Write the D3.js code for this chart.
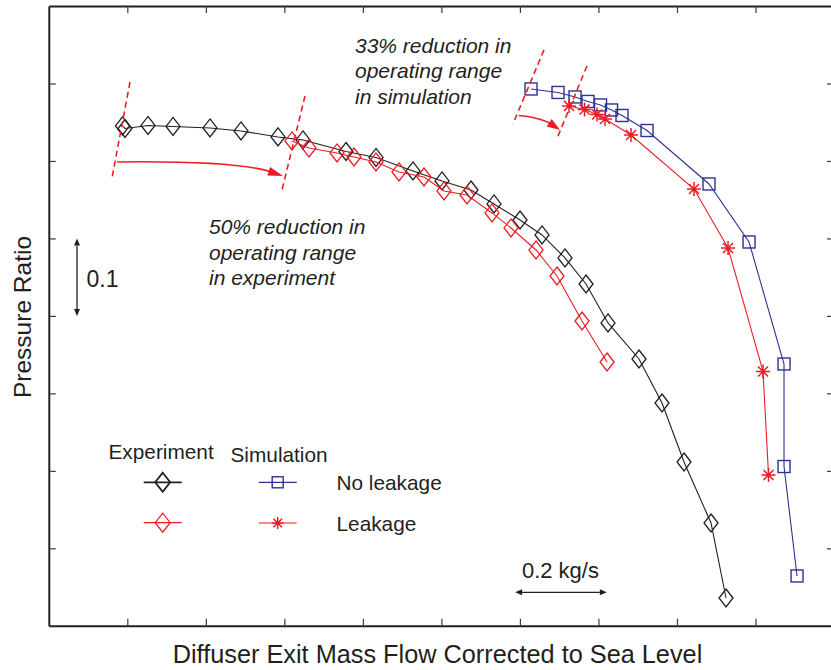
<!DOCTYPE html>
<html>
<head>
<meta charset="utf-8">
<script src="https://cdn.jsdelivr.net/npm/d3@7"></script>
<style>
  body { margin: 0; background: #fff; }
  svg { display: block; }
  text { font-family: "Liberation Sans", Arial, Helvetica, sans-serif; fill: #231f20; }
</style>
</head>
<body>
<svg id="chart" width="831" height="670"></svg>
<script>
// Corrected diffuser exit mass flow (kg/s, relative) and total pressure ratio per series
const expNoLeakFlow = [0.1607, 0.1662, 0.2164, 0.2709, 0.3516, 0.4192, 0.4999, 0.5544, 0.6482, 0.7136, 0.7943,
  0.8576, 0.9208, 0.9710, 1.0277, 1.0757, 1.1258, 1.1717, 1.2196, 1.2872, 1.3374, 1.3854, 1.4443, 1.4770];
const expNoLeakPR = [1.6452, 1.6419, 1.6458, 1.6445, 1.6426, 1.6387, 1.6310, 1.6271, 1.6122, 1.6045, 1.5871,
  1.5742, 1.5625, 1.5445, 1.5238, 1.5045, 1.4748, 1.4412, 1.3909, 1.3444, 1.2876, 1.2114, 1.1327, 1.0359];

const expLeakFlow = [0.5304, 0.5675, 0.6286, 0.6657, 0.7136, 0.7638, 0.8183, 0.8619, 0.9121, 0.9666, 1.0081,
  1.0626, 1.1084, 1.1629, 1.2175];
const expLeakPR = [1.6258, 1.6168, 1.6103, 1.6051, 1.5987, 1.5858, 1.5793, 1.5613, 1.5561, 1.5329, 1.5135,
  1.4851, 1.4515, 1.3934, 1.3405];

const simNoLeakFlow = [1.0517, 1.1106, 1.1477, 1.1760, 1.2033, 1.2273, 1.2502, 1.3047, 1.4399, 1.5272, 1.6035,
  1.6035, 1.6319];
const simNoLeakPR = [1.6929, 1.6884, 1.6826, 1.6768, 1.6723, 1.6658, 1.6587, 1.6393, 1.5703, 1.4954, 1.3379,
  1.2056, 1.0643];

const simLeakFlow = [1.1346, 1.1684, 1.1956, 1.2131, 1.2698, 1.4072, 1.4814, 1.5577, 1.5697];
const simLeakPR = [1.6710, 1.6665, 1.6600, 1.6542, 1.6335, 1.5638, 1.4877, 1.3283, 1.1947];

// Axis extents and (unlabelled) tick positions
const flowDomain = [0, 1.7125];
const prDomain = [1.0, 1.8];
const flowTicks = [0.17125, 0.3425, 0.51375, 0.685, 0.85625, 1.0275, 1.19875, 1.37, 1.54125];
const prTicks = [1.1, 1.2, 1.3, 1.4, 1.5, 1.6, 1.7];

// Stall-limit markers (dashed) bounding each operating range: [flow, PR] end points
const rangeLimits = [
  [[0.1771, 1.7019], [0.1378, 1.5780]],
  [[0.5588, 1.6839], [0.5086, 1.5625]],
  [[1.0800, 1.7433], [1.0124, 1.6477]],
  [[1.1738, 1.7226], [1.1084, 1.6290]]
];
// Curved arrows showing the range shift: start, two control points, tip
const shiftArrows = [
  [[0.1490, 1.5988], [0.3298, 1.6000], [0.4388, 1.5948], [0.5108, 1.5807]],
  [[1.0255, 1.6587], [1.0604, 1.6574], [1.0888, 1.6503], [1.1150, 1.6400]]
];
const scaleFlow = 0.2;   // kg/s reference bar
const scalePR = 0.1;     // pressure-ratio reference bar

const C = { black: "#231f20", red: "#ed1c24", blue: "#2e3192" };

const svg = d3.select("#chart");
const x = d3.scaleLinear().domain(flowDomain).range([48.8, 834]);
const y = d3.scaleLinear().domain(prDomain).range([625.8, 6]);

// ---- frame with inward ticks on all sides ----
function styleAxis(g) {
  g.select(".domain").attr("stroke", C.black).attr("stroke-width", 2);
  g.selectAll(".tick line").attr("stroke", "#3a3a3a").attr("stroke-width", 1.2);
}
svg.append("g").attr("transform", `translate(0,${y.range()[0]})`)
  .call(d3.axisBottom(x).tickValues(flowTicks).tickSize(-7).tickSizeOuter(0).tickFormat(""))
  .call(styleAxis);
svg.append("g").attr("transform", `translate(0,${y.range()[1]})`)
  .call(d3.axisTop(x).tickValues(flowTicks).tickSize(-7).tickSizeOuter(0).tickFormat(""))
  .call(styleAxis);
svg.append("g").attr("transform", `translate(${x.range()[0]},0)`)
  .call(d3.axisLeft(y).tickValues(prTicks).tickSize(-7).tickSizeOuter(0).tickFormat(""))
  .call(styleAxis);
svg.append("g").attr("transform", `translate(${x.range()[1]},0)`)
  .call(d3.axisRight(y).tickValues(prTicks).tickSize(-7).tickSizeOuter(0).tickFormat(""))
  .call(styleAxis);

// ---- marker shapes ----
function diamond(g, cx, cy, color, sw, hw = 7, hh = 9) {
  g.append("path")
    .attr("d", `M${cx},${cy - hh}L${cx + hw},${cy}L${cx},${cy + hh}L${cx - hw},${cy}Z`)
    .attr("fill", "none").attr("stroke", color).attr("stroke-width", sw);
}
function square(g, cx, cy, color, s = 12) {
  g.append("rect").attr("x", cx - s / 2).attr("y", cy - s / 2).attr("width", s).attr("height", s)
    .attr("fill", "none").attr("stroke", color).attr("stroke-width", 1.4);
}
function star(g, cx, cy, color, r = 7) {
  const d = r * 0.72;
  g.append("path")
    .attr("d", `M${cx - r},${cy}H${cx + r}M${cx},${cy - r}V${cy + r}` +
      `M${cx - d},${cy - d}L${cx + d},${cy + d}M${cx - d},${cy + d}L${cx + d},${cy - d}`)
    .attr("stroke", color).attr("stroke-width", 1.5).attr("fill", "none");
}

const line = d3.line().x(d => x(d[0])).y(d => y(d[1]));
const zip = (a, b) => a.map((v, i) => [v, b[i]]);

const series = [
  { pts: zip(expNoLeakFlow, expNoLeakPR), color: C.black, mark: "diamond" },
  { pts: zip(expLeakFlow, expLeakPR), color: C.red, mark: "diamond" },
  { pts: zip(simNoLeakFlow, simNoLeakPR), color: C.blue, mark: "square" },
  { pts: zip(simLeakFlow, simLeakPR), color: C.red, mark: "star" }
];

series.forEach(s => {
  const g = svg.append("g");
  g.append("path").attr("d", line(s.pts)).attr("fill", "none")
    .attr("stroke", s.color).attr("stroke-width", 1.1);
  s.pts.forEach(p => {
    const cx = x(p[0]), cy = y(p[1]);
    if (s.mark === "diamond") diamond(g, cx, cy, s.color, 1.3);
    else if (s.mark === "square") square(g, cx, cy, s.color);
    else star(g, cx, cy, s.color);
  });
});

// ---- operating range annotations ----
const ann = svg.append("g");
rangeLimits.forEach(([a, b]) => {
  ann.append("line").attr("x1", x(a[0])).attr("y1", y(a[1])).attr("x2", x(b[0])).attr("y2", y(b[1]))
    .attr("stroke", C.red).attr("stroke-width", 1.6).attr("stroke-dasharray", "6,4");
});

function arrowHead(g, tip, from, len, hw, color) {
  const ang = Math.atan2(tip[1] - from[1], tip[0] - from[0]);
  const bx = tip[0] - len * Math.cos(ang), by = tip[1] - len * Math.sin(ang);
  const nx = -Math.sin(ang) * hw, ny = Math.cos(ang) * hw;
  g.append("path")
    .attr("d", `M${tip[0]},${tip[1]}L${bx + nx},${by + ny}L${bx - nx},${by - ny}Z`)
    .attr("fill", color);
  return [bx, by];
}

shiftArrows.forEach((a, i) => {
  const P = a.map(p => [x(p[0]), y(p[1])]);
  const len = i === 0 ? 15 : 13;
  const ang = Math.atan2(P[3][1] - P[2][1], P[3][0] - P[2][0]);
  const end = [P[3][0] - (len - 2) * Math.cos(ang), P[3][1] - (len - 2) * Math.sin(ang)];
  ann.append("path")
    .attr("d", `M${P[0]}C${P[1]} ${P[2]} ${end}`)
    .attr("fill", "none").attr("stroke", C.red).attr("stroke-width", 1.5);
  arrowHead(ann, P[3], P[2], len, 4.5, C.red);
});

function italicBlock(lines, x0, y0) {
  lines.forEach((t, i) => {
    svg.append("text").attr("x", x0).attr("y", y0 + i * 25.7)
      .attr("font-size", 21).attr("font-style", "italic").text(t);
  });
}
italicBlock(["33% reduction in", "operating range", "in simulation"], 355, 52.5);
italicBlock(["50% reduction in", "operating range", "in experiment"], 209, 234);

// ---- scale reference bars ----
function doubleArrow(x1, y1, x2, y2) {
  const g = svg.append("g");
  const a = arrowHead(g, [x2, y2], [x1, y1], 7, 3, C.black);
  const b = arrowHead(g, [x1, y1], [x2, y2], 7, 3, C.black);
  g.append("line").attr("x1", b[0]).attr("y1", b[1]).attr("x2", a[0]).attr("y2", a[1])
    .attr("stroke", C.black).attr("stroke-width", 1.3);
}
const prBarX = 77, prBarTop = 1.5;
doubleArrow(prBarX, y(prBarTop), prBarX, y(prBarTop - scalePR));
svg.append("text").attr("x", 86.5).attr("y", 287).attr("font-size", 23).text(scalePR.toFixed(1));

const flowBarStart = 1.017, flowBarY = 592.3;
doubleArrow(x(flowBarStart), flowBarY, x(flowBarStart + scaleFlow), flowBarY);
svg.append("text").attr("x", (x(flowBarStart) + x(flowBarStart + scaleFlow)) / 2 - 0.5).attr("y", 578)
  .attr("text-anchor", "middle").attr("font-size", 22).text(`${scaleFlow} kg/s`);

// ---- legend ----
const leg = svg.append("g");
leg.append("text").attr("x", 108.5).attr("y", 459).attr("font-size", 20.8).text("Experiment");
leg.append("text").attr("x", 230.5).attr("y", 462).attr("font-size", 20.8).text("Simulation");
leg.append("text").attr("x", 336.5).attr("y", 490).attr("font-size", 20.8).text("No leakage");
leg.append("text").attr("x", 336.5).attr("y", 531).attr("font-size", 20.8).text("Leakage");

function legLine(cx, cy, color, sw) {
  leg.append("line").attr("x1", cx - 19).attr("x2", cx + 19).attr("y1", cy).attr("y2", cy)
    .attr("stroke", color).attr("stroke-width", sw);
}
legLine(162.7, 482.3, C.black, 1.8); diamond(leg, 162.7, 482.3, C.black, 1.8, 7.5, 9.5);
legLine(162.7, 522.7, C.red, 1.2);   diamond(leg, 162.7, 522.7, C.red, 1.2, 7.5, 9.5);
legLine(277.7, 482.3, C.blue, 1.2);  square(leg, 277.7, 482.3, C.blue, 11);
legLine(277.7, 523, C.red, 1.2);     star(leg, 277.7, 523, C.red, 6);

// ---- axis titles ----
svg.append("text").attr("transform", "translate(31,317) rotate(-90)")
  .attr("text-anchor", "middle").attr("font-size", 24.5).text("Pressure Ratio");
svg.append("text").attr("x", 437.5).attr("y", 663)
  .attr("text-anchor", "middle").attr("font-size", 25.3).text("Diffuser Exit Mass Flow Corrected to Sea Level");
</script>
</body>
</html>
